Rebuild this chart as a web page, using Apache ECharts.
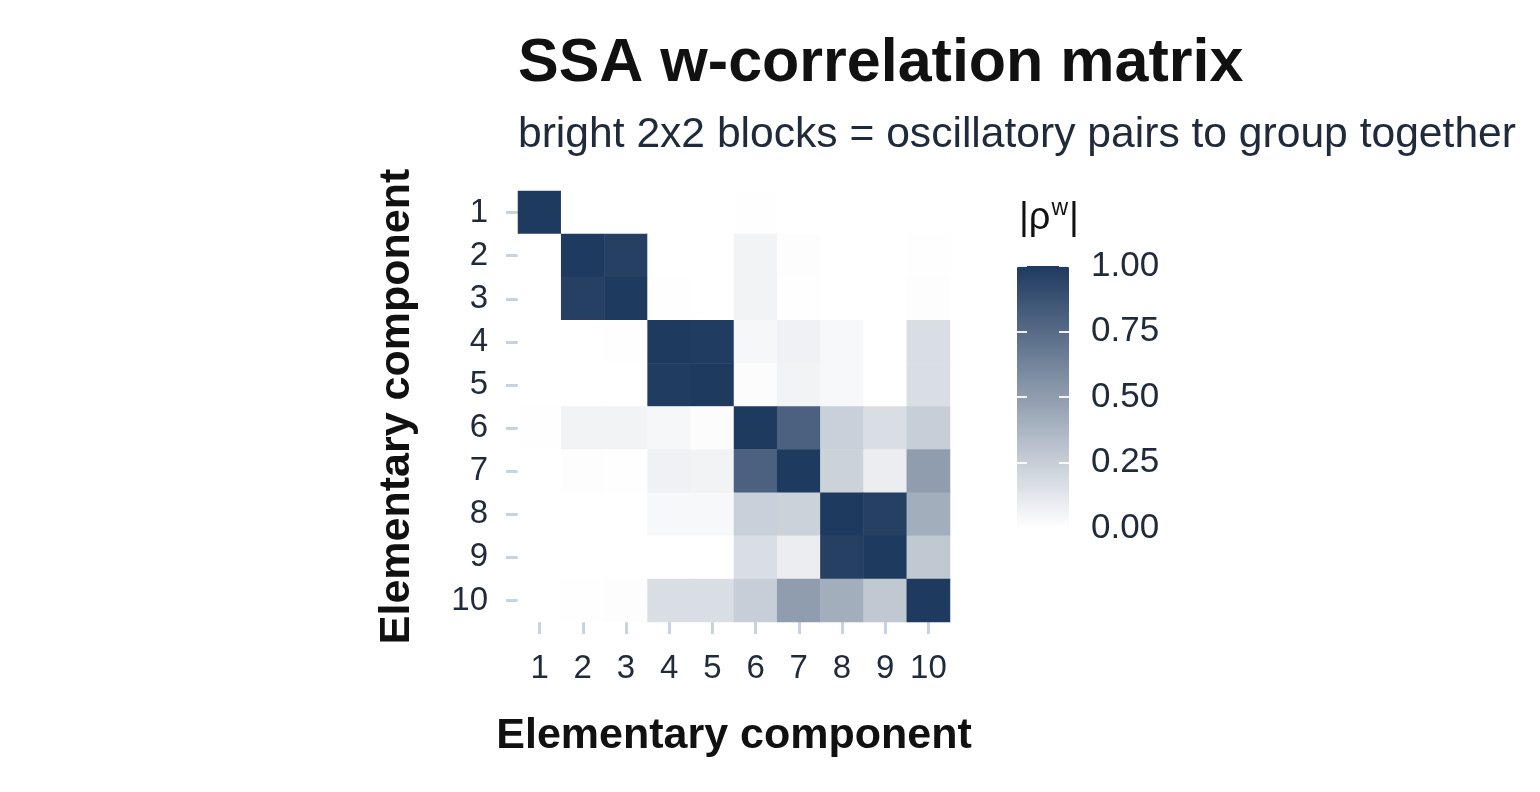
<!DOCTYPE html>
<html>
<head>
<meta charset="utf-8">
<script src="https://cdn.jsdelivr.net/npm/echarts@6/dist/echarts.min.js"></script>
<style>
  html, body { margin: 0; padding: 0; background: #fff; }
  #chart { width: 1540px; height: 792px; }
</style>
</head>
<body>
<div id="chart"></div>
<script>
// component labels, 1..10
const components = ['1', '2', '3', '4', '5', '6', '7', '8', '9', '10'];

// |w-correlation|, row = y component, col = x component
const wcorRows = [
  [1, 0, 0, 0, 0, 0.003, 0, 0, 0, 0],
  [0, 1, 0.97, 0, 0, 0.06, 0.01, 0, 0, 0.005],
  [0, 0.97, 1, 0.005, 0, 0.06, 0.005, 0, 0, 0.01],
  [0, 0, 0.005, 1, 0.99, 0.04, 0.07, 0.035, 0, 0.17],
  [0, 0, 0, 0.99, 1, 0.015, 0.06, 0.035, 0, 0.17],
  [0.003, 0.06, 0.06, 0.04, 0.015, 1, 0.8, 0.24, 0.17, 0.25],
  [0, 0.01, 0.005, 0.07, 0.06, 0.8, 1, 0.23, 0.09, 0.5],
  [0, 0, 0, 0.035, 0.035, 0.24, 0.23, 1, 0.97, 0.41],
  [0, 0, 0, 0, 0, 0.17, 0.09, 0.97, 1, 0.28],
  [0, 0.005, 0.01, 0.17, 0.17, 0.25, 0.5, 0.41, 0.28, 1]
];

const legendTicks = [0, 0.25, 0.5, 0.75, 1];

const heatData = [];
wcorRows.forEach((row, yi) => {
  row.forEach((v, xi) => heatData.push([xi, yi, v]));
});

const textColor = '#1f2a3a';
const tickColor = '#c9d3e0';

// axis line kept (ticks need it) but made invisible
const hiddenLine = { show: true, lineStyle: { opacity: 0 } };

const chart = echarts.init(document.getElementById('chart'));

chart.setOption({
  animation: false,
  backgroundColor: '#fff',
  textStyle: { fontFamily: 'Liberation Sans, Arial, sans-serif' },
  title: [
    {
      text: 'SSA w-correlation matrix',
      left: 518, top: 34, padding: 0,
      textStyle: { fontSize: 61, fontWeight: 'bold', color: '#111111' }
    },
    {
      text: 'bright 2x2 blocks = oscillatory pairs to group together',
      left: 518, top: 114, padding: 0,
      textStyle: { fontSize: 42.6, fontWeight: 'normal', color: textColor }
    },
    {
      text: '{a||ρ}{s|w}{a||}',
      left: 1019, top: 197, padding: 0,
      textStyle: {
        fontWeight: 'normal',
        rich: {
          a: { fontSize: 38, fontWeight: 'normal', color: '#111111', lineHeight: 44 },
          s: { fontSize: 23, fontWeight: 'normal', color: '#111111', lineHeight: 44, verticalAlign: 'top', padding: [0, 1, 16, 1] }
        }
      }
    }
  ],
  grid: [
    { left: 518, top: 191, width: 432, height: 431 },
    { left: 1017, top: 266, width: 52, height: 262 }
  ],
  xAxis: [
    {
      type: 'category', gridIndex: 0, data: components,
      name: 'Elementary component', nameLocation: 'middle', nameGap: 93,
      nameTextStyle: { fontSize: 43, fontWeight: 'bold', color: '#111111' },
      axisLine: hiddenLine,
      axisTick: { show: true, interval: 0, alignWithLabel: true, length: 12, lineStyle: { color: tickColor, width: 3 } },
      axisLabel: { interval: 0, fontSize: 33, color: textColor, margin: 30 },
      splitLine: { show: false }
    },
    { type: 'value', gridIndex: 1, min: 0, max: 1, show: false }
  ],
  yAxis: [
    {
      type: 'category', gridIndex: 0, data: components, inverse: true,
      name: 'Elementary component', nameLocation: 'middle', nameGap: 99,
      nameTextStyle: { fontSize: 43, fontWeight: 'bold', color: '#111111' },
      axisLine: hiddenLine,
      axisTick: { show: true, interval: 0, alignWithLabel: true, length: 12, lineStyle: { color: tickColor, width: 3 } },
      axisLabel: { interval: 0, fontSize: 33, color: textColor, margin: 30 },
      splitLine: { show: false }
    },
    {
      // colourbar scale: labels on the right, white notches at both edges
      type: 'value', gridIndex: 1, min: 0, max: 1, interval: 0.25, position: 'right', z: 10,
      axisLine: hiddenLine,
      axisTick: { show: false },
      axisLabel: {
        fontSize: 35, color: textColor, margin: 22,
        formatter: v => legendTicks.includes(v) ? v.toFixed(2) : ''
      },
      splitLine: { show: true, lineStyle: { color: '#ffffff', width: 2, opacity: 0.9, type: [10, 32] } }
    }
  ],
  visualMap: {
    type: 'continuous',
    min: 0, max: 1,
    seriesIndex: 0,
    left: 1017, top: 266,
    itemWidth: 52, itemHeight: 262,
    padding: 0,
    calculable: false,
    text: null,
    z: 1,
    inRange: { color: ['#ffffff', '#1f3a5f'] }
  },
  series: [
    {
      type: 'heatmap',
      xAxisIndex: 0, yAxisIndex: 0,
      data: heatData,
      emphasis: { disabled: true },
      itemStyle: { borderWidth: 0 }
    }
  ]
});

window.addEventListener('resize', () => chart.resize());
</script>
</body>
</html>
